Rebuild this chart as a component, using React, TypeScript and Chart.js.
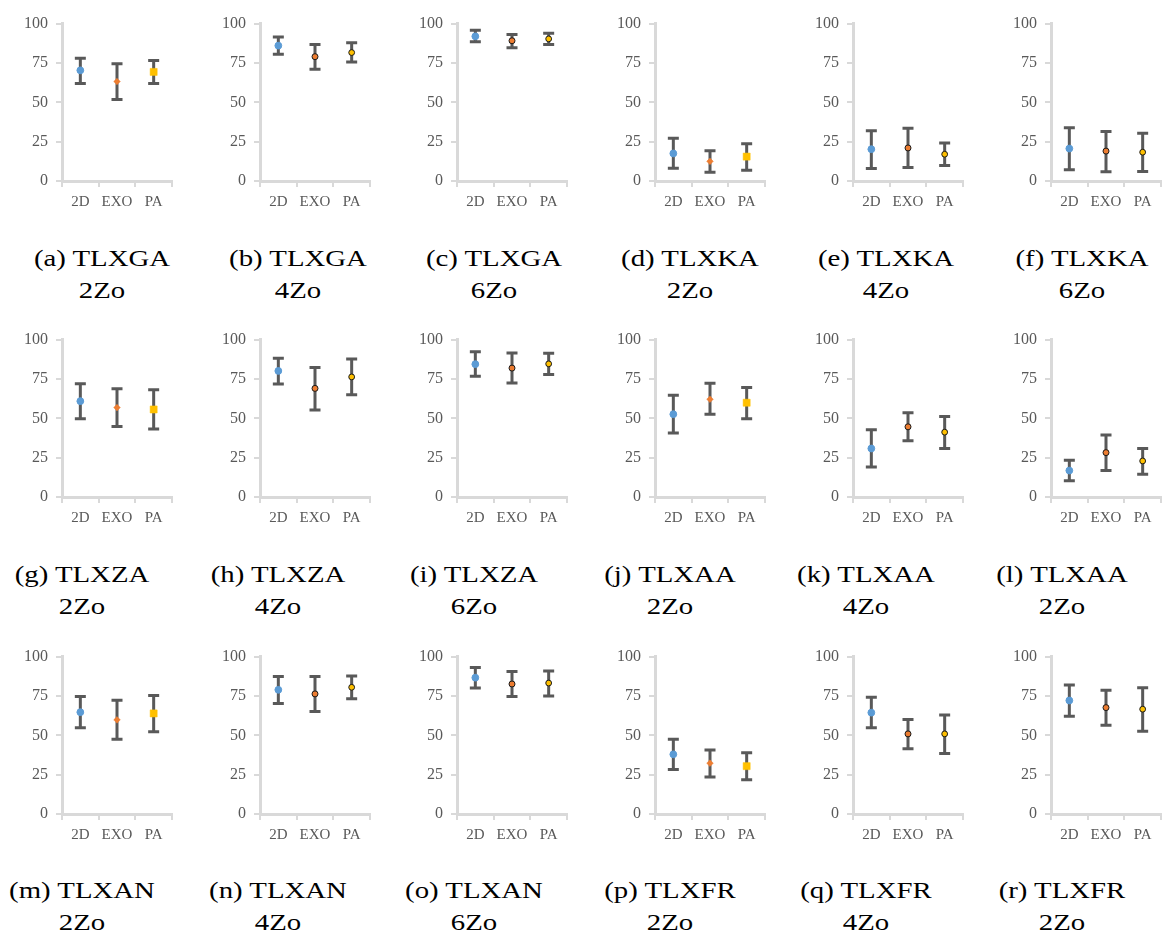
import React, { useEffect, useRef } from "react";
import { Chart, registerables } from "chart.js";

Chart.register(...registerables);

// ---------- DATA ----------
const categories = ["2D", "EXO", "PA"];
const yTickValues = [0, 25, 50, 75, 100];

const panelTitles = [
  "(a) TLXGA", "(b) TLXGA", "(c) TLXGA", "(d) TLXKA", "(e) TLXKA", "(f) TLXKA",
  "(g) TLXZA", "(h) TLXZA", "(i) TLXZA", "(j) TLXAA", "(k) TLXAA", "(l) TLXAA",
  "(m) TLXAN", "(n) TLXAN", "(o) TLXAN", "(p) TLXFR", "(q) TLXFR", "(r) TLXFR",
];
const panelSubtitles = [
  "2Zo", "4Zo", "6Zo", "2Zo", "4Zo", "6Zo",
  "2Zo", "4Zo", "6Zo", "2Zo", "4Zo", "2Zo",
  "2Zo", "4Zo", "6Zo", "2Zo", "4Zo", "2Zo",
];
// "A": circle / diamond / square markers, "B": circle / bordered circles
const panelMarkerSet = [
  "A", "B", "B", "A", "B", "B",
  "A", "B", "B", "A", "B", "B",
  "A", "B", "B", "A", "B", "B",
];

const meanValues = [
  [70.3, 63.2, 69.3], [86.0, 79.0, 81.6], [91.9, 89.1, 90.3],
  [17.5, 12.5, 15.5], [20.2, 21.0, 17.0], [20.6, 19.0, 18.3],
  [60.9, 56.8, 55.6], [80.1, 69.0, 76.3], [84.4, 81.9, 84.6],
  [52.6, 62.1, 59.9], [30.8, 44.6, 41.2], [16.8, 28.2, 22.9],
  [64.7, 59.8, 63.9], [78.9, 76.3, 80.5], [86.6, 82.6, 83.2],
  [37.9, 32.3, 30.4], [64.4, 50.9, 50.9], [72.1, 67.6, 66.6],
];
const lowValues = [
  [62.0, 51.7, 62.0], [80.6, 71.0, 75.6], [88.5, 84.7, 86.7],
  [8.1, 5.6, 6.9], [7.9, 8.5, 9.9], [7.1, 5.8, 6.0],
  [49.7, 44.8, 43.2], [71.8, 55.2, 64.9], [76.7, 72.4, 77.9],
  [40.6, 52.6, 49.7], [19.1, 35.7, 30.8], [10.3, 16.8, 14.4],
  [54.8, 47.5, 52.3], [70.2, 65.1, 73.2], [80.1, 74.6, 75.0],
  [28.2, 23.5, 21.7], [54.8, 41.5, 38.5], [62.1, 56.4, 52.5],
];
const highValues = [
  [78.0, 74.5, 76.5], [91.5, 86.8, 87.9], [95.8, 93.1, 93.8],
  [27.2, 19.2, 23.6], [32.0, 33.5, 24.2], [33.9, 31.5, 30.4],
  [72.0, 68.8, 68.2], [88.2, 82.2, 87.6], [92.3, 91.5, 91.3],
  [64.7, 72.2, 69.6], [42.8, 53.5, 51.1], [23.3, 39.4, 30.8],
  [74.6, 72.2, 75.3], [87.4, 87.4, 87.6], [93.1, 90.5, 90.9],
  [47.5, 40.6, 38.9], [74.2, 60.1, 62.9], [81.9, 78.6, 80.2],
];

// ---------- STYLE / LAYOUT ----------
const BLUE = "#5b9bd5";
const ORANGE = "#ed7d31";
const YELLOW = "#ffc000";
const AXIS = "#d9d9d9";
const BAR = "#595959";
const TEXT = "#595959";
const TICK_FONT = "'Liberation Serif'";
const CAPTION_FONT = "'Liberation Serif'";

const Y_AXIS_W = 50;
const X_AXIS_H = 30;
const PAD_TOP = 10;
const PAD_RIGHT = 8;
const PLOT_W = 110;
const PLOT_H = 165;
const CANVAS_W = Y_AXIS_W + PLOT_W + PAD_RIGHT;
const CANVAS_H = PAD_TOP + PLOT_H + X_AXIS_H;

const colAxisX = (c: number) => 62 + 197.7 * c;
const rowTop = [15.7, 332.3, 649];
const captionCenterX = (c: number, r: number) => (r === 0 ? 102 : 82) + 196 * c;
const captionTop = [242, 558, 874];

function Panel({ idx }: { idx: number }) {
  const ref = useRef<HTMLCanvasElement | null>(null);
  useEffect(() => {
    if (!ref.current) return;
    const setA = panelMarkerSet[idx] === "A";
    const lows = lowValues[idx];
    const highs = highValues[idx];
    const errorBars = {
      id: "errorBars",
      beforeDatasetsDraw(chart: any) {
        const { ctx } = chart;
        const xs = chart.scales.x;
        const ys = chart.scales.y;
        ctx.save();
        ctx.strokeStyle = BAR;
        ctx.lineWidth = 3;
        ctx.lineCap = "butt";
        lows.forEach((lo: number, i: number) => {
          const px = xs.getPixelForValue(i);
          const pl = ys.getPixelForValue(lo);
          const ph = ys.getPixelForValue(highs[i]);
          const cap = 5.5;
          ctx.beginPath();
          ctx.moveTo(px, pl);
          ctx.lineTo(px, ph);
          ctx.moveTo(px - cap, ph);
          ctx.lineTo(px + cap, ph);
          ctx.moveTo(px - cap, pl);
          ctx.lineTo(px + cap, pl);
          ctx.stroke();
        });
        ctx.restore();
      },
    };
    const chart = new Chart(ref.current, {
      type: "line",
      data: {
        labels: categories,
        datasets: [
          {
            data: meanValues[idx],
            showLine: false,
            pointStyle: setA ? ["circle", "rectRot", "rect"] : ["circle", "circle", "circle"],
            pointRadius: setA ? [3.4, 3.3, 5] : [3.4, 3.0, 2.9],
            pointBackgroundColor: [BLUE, ORANGE, YELLOW],
            pointBorderColor: setA ? [BLUE, ORANGE, YELLOW] : [BLUE, "#1a1a1a", "#1a1a1a"],
            pointBorderWidth: setA ? [1, 0.5, 0.5] : [1, 1, 1],
            clip: false as any,
          } as any,
        ],
      },
      options: {
        responsive: false,
        animation: false,
        devicePixelRatio: 1,
        layout: { padding: { top: PAD_TOP, right: PAD_RIGHT, left: 0, bottom: 0 } },
        plugins: { legend: { display: false }, tooltip: { enabled: false } },
        events: [],
        scales: {
          x: {
            type: "category",
            offset: true,
            afterFit: (s: any) => {
              s.height = X_AXIS_H;
            },
            grid: {
              display: true,
              offset: true,
              drawOnChartArea: false,
              drawTicks: true,
              tickLength: 6,
              color: AXIS,
              lineWidth: 2,
            },
            border: { display: true, color: AXIS, width: 3 },
            ticks: {
              color: TEXT,
              font: { family: TICK_FONT, size: 15 },
              padding: 6,
              maxRotation: 0,
              minRotation: 0,
              autoSkip: false,
            },
          },
          y: {
            type: "linear",
            min: 0,
            max: 100,
            afterFit: (s: any) => {
              s.width = Y_AXIS_W;
            },
            afterBuildTicks: (s: any) => {
              s.ticks = yTickValues.map((v) => ({ value: v }));
            },
            grid: {
              display: true,
              drawOnChartArea: false,
              drawTicks: true,
              tickLength: 6,
              color: AXIS,
              lineWidth: 2,
            },
            border: { display: true, color: AXIS, width: 3 },
            ticks: {
              color: TEXT,
              font: { family: TICK_FONT, size: 16 },
              padding: 8,
            },
          },
        },
      } as any,
      plugins: [errorBars],
    });
    return () => chart.destroy();
  }, [idx]);

  const c = idx % 6;
  const r = Math.floor(idx / 6);
  return (
    <>
      <canvas
        ref={ref}
        width={CANVAS_W}
        height={CANVAS_H}
        style={{
          position: "absolute",
          left: Math.round(colAxisX(c) - Y_AXIS_W),
          top: Math.round(rowTop[r] - PAD_TOP),
          width: CANVAS_W,
          height: CANVAS_H,
        }}
      />
      <div
        style={{
          position: "absolute",
          left: captionCenterX(c, r) - 100,
          top: captionTop[r],
          width: 200,
          textAlign: "center",
          fontFamily: CAPTION_FONT,
          fontSize: 24,
          lineHeight: "32px",
          color: "#000",
          transform: "scaleX(1.2)",
          transformOrigin: "50% 50%",
        }}
      >
        <div>{panelTitles[idx]}</div>
        <div>{panelSubtitles[idx]}</div>
      </div>
    </>
  );
}

export default function App() {
  return (
    <div
      style={{
        position: "absolute",
        left: 0,
        top: 0,
        width: 1163,
        height: 933,
        background: "#fff",
        overflow: "hidden",
      }}
    >
      {panelTitles.map((_, i) => (
        <Panel key={i} idx={i} />
      ))}
    </div>
  );
}
